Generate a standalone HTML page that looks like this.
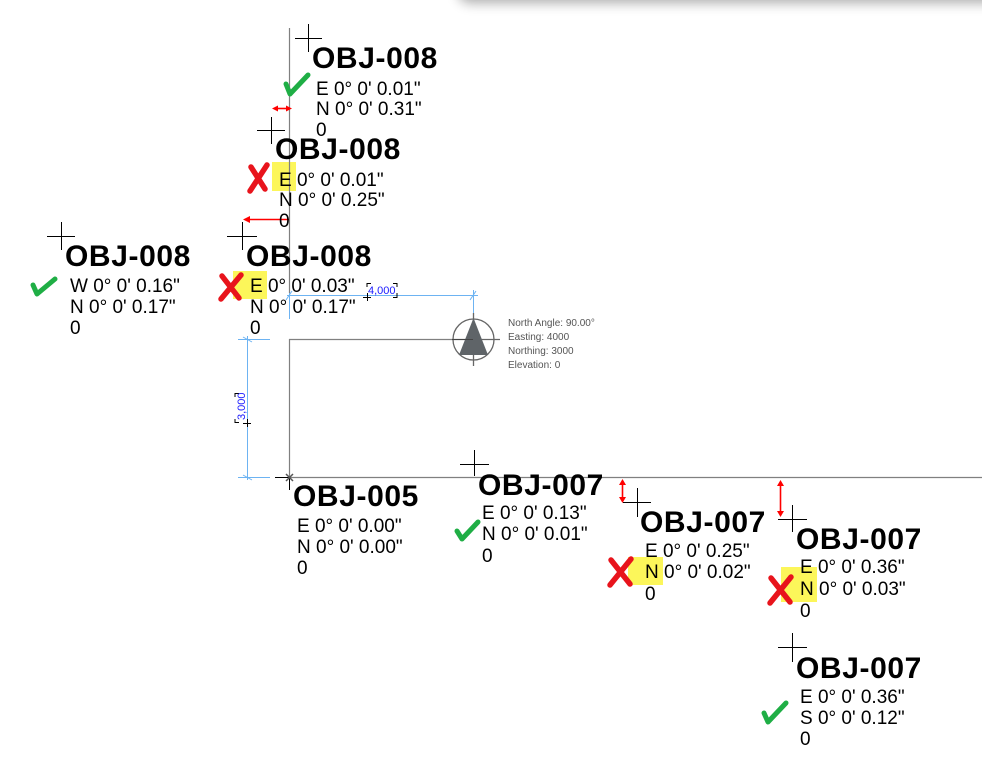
<!DOCTYPE html>
<html><head><meta charset="utf-8">
<style>
html,body{margin:0;padding:0;background:#fff;}
body{width:982px;height:771px;position:relative;overflow:hidden;}
#shadow{position:absolute;left:458px;top:-30px;width:560px;height:30px;background:#fff;box-shadow:0 3px 12px rgba(0,0,0,0.33);border-radius:0 0 0 12px;}
svg{position:absolute;left:0;top:0;}
.t{font-family:"Liberation Sans",Arial,sans-serif;font-weight:bold;font-size:30px;letter-spacing:0.6px;fill:#000;}
.d{font-family:"Liberation Sans",Arial,sans-serif;font-size:19px;fill:#000;}
.c{font-family:"Liberation Sans",Arial,sans-serif;font-size:10px;fill:#555;}
.dim{font-family:"Liberation Sans",Arial,sans-serif;font-size:11px;fill:#1a1aff;}
</style></head><body>
<div id="shadow"></div>
<svg width="982" height="771" viewBox="0 0 982 771" xmlns="http://www.w3.org/2000/svg">
<!-- yellow highlights -->
<rect x="272" y="162" width="24" height="29" fill="#fcf65a"/>
<rect x="233" y="271" width="34" height="28" fill="#fcf65a"/>
<rect x="628" y="557" width="35" height="28" fill="#fcf65a"/>
<rect x="781" y="567" width="36" height="35" fill="#fcf65a"/>

<!-- grey construction lines -->
<g stroke="#808080" stroke-width="1.2" fill="none">
<line x1="289.5" y1="28" x2="289.5" y2="293"/>
<line x1="289.5" y1="339" x2="289.5" y2="477"/>
<line x1="289" y1="477.5" x2="982" y2="477.5"/>
<line x1="289" y1="339.5" x2="452" y2="339.5"/>
</g>

<!-- blue dimensions -->
<g stroke="#6db3f2" stroke-width="1" fill="none">
<line x1="289.5" y1="293" x2="289.5" y2="319"/>
<line x1="287" y1="295.5" x2="478" y2="295.5"/>
<line x1="473.5" y1="290" x2="473.5" y2="313"/>
<line x1="286" y1="300" x2="292" y2="291"/>
<line x1="470" y1="300" x2="476" y2="291"/>
<line x1="247.5" y1="336" x2="247.5" y2="480"/>
<line x1="238" y1="339.5" x2="270" y2="339.5"/>
<line x1="238" y1="477.5" x2="270" y2="477.5"/>
<line x1="243" y1="337" x2="252" y2="342"/>
<line x1="243" y1="475" x2="252" y2="480"/>
</g>
<text class="dim" x="368" y="294">4,000</text>
<g stroke="#000" stroke-width="1" fill="none">
<path d="M367 287 V283.5 H371"/><path d="M393 283.5 H397 V287"/><path d="M397 293 V297.5 H393"/>
<line x1="363" y1="297.5" x2="371" y2="297.5"/><line x1="367.5" y1="293" x2="367.5" y2="301"/>
<path d="M235 397 V393.5 H239"/><path d="M235 419 V422.5 H239"/>
<line x1="243" y1="423.5" x2="251" y2="423.5"/><line x1="247.5" y1="419" x2="247.5" y2="427"/>
</g>
<text class="dim" x="0" y="0" transform="translate(245,420) rotate(-90)">3,000</text>

<!-- compass -->
<g stroke="#666" stroke-width="1.3" fill="none">
<circle cx="473.5" cy="339.5" r="20.5"/>
<line x1="452" y1="339.5" x2="500" y2="339.5"/>
<line x1="473.5" y1="313" x2="473.5" y2="366"/>
</g>
<polygon points="473.5,318 459,355 488,355" fill="#5f6468"/>
<line x1="452" y1="339.5" x2="473" y2="339.5" stroke="#444" stroke-width="1"/>
<text class="c" x="508" y="326">North Angle: 90.00°</text>
<text class="c" x="508" y="340">Easting: 4000</text>
<text class="c" x="508" y="354">Northing: 3000</text>
<text class="c" x="508" y="368">Elevation: 0</text>

<!-- crosshairs -->
<g stroke="#000" stroke-width="1" fill="none">
<path d="M295 38.5 H322 M308.5 24 V52"/>
<path d="M257 130.5 H285 M271.5 117 V144"/>
<path d="M47 236.5 H75 M61.5 222 V250"/>
<path d="M227 236.5 H257 M242.5 222 V250"/>
<path d="M275 477.5 H289 M289.5 477 V490"/>
<path d="M460 464.5 H489 M474.5 450 V476"/>
<path d="M623 502.5 H651 M637.5 488 V517"/>
<path d="M778 519.5 H807 M792.5 505 V532"/>
<path d="M778 647.5 H807 M792.5 633 V662"/>
</g>
<g stroke="#555" stroke-width="1.5"><path d="M286 474 L293 481 M293 474 L286 481"/></g>

<!-- red arrows -->
<g stroke="#f00" stroke-width="1.6" fill="#f00">
<line x1="276" y1="108.5" x2="288" y2="108.5"/>
<polygon points="272,108.5 278,105.5 278,111.5" stroke="none"/>
<polygon points="292,108.5 286,105.5 286,111.5" stroke="none"/>
<line x1="248" y1="219.5" x2="289" y2="219.5"/>
<polygon points="243,219.5 250,216 250,223" stroke="none"/>
<line x1="622.5" y1="483" x2="622.5" y2="499"/>
<polygon points="622.5,479 619,485 626,485" stroke="none"/>
<polygon points="622.5,503 619,497 626,497" stroke="none"/>
<line x1="780.5" y1="484" x2="780.5" y2="513"/>
<polygon points="780.5,480 777,486 784,486" stroke="none"/>
<polygon points="780.5,517 777,511 784,511" stroke="none"/>
</g>

<!-- green checks -->
<g stroke="#1fae45" stroke-width="5" fill="none" stroke-linecap="round" stroke-linejoin="round">
<path d="M286 84 L290 94 L308 75"/>
<path d="M33 285 L37 294 L55 279"/>
<path d="M457 531 L462 539 L478 522"/>
<path d="M764 713 L768 722 L786 703"/>
</g>

<!-- red crosses -->
<g stroke="#e8141c" stroke-width="5.5" fill="none" stroke-linecap="round">
<path d="M251 167 L265 189 M267 165 L250 191"/>
<path d="M222 276 L239 298 M241 275 L221 299"/>
<path d="M611 560 L630 584 M631 559 L610 585"/>
<path d="M771 578 L790 602 M791 577 L770 603"/>
</g>

<!-- labels -->
<text class="t" x="312" y="68">OBJ-008</text>
<text class="d" x="316" y="95">E 0° 0' 0.01"</text>
<text class="d" x="316" y="115">N 0° 0' 0.31"</text>
<text class="d" x="316" y="136">0</text>

<text class="t" x="275" y="159">OBJ-008</text>
<text class="d" x="279" y="186">E 0° 0' 0.01"</text>
<text class="d" x="279" y="206">N 0° 0' 0.25"</text>
<text class="d" x="279" y="227">0</text>

<text class="t" x="65" y="266">OBJ-008</text>
<text class="d" x="70" y="292">W 0° 0' 0.16"</text>
<text class="d" x="70" y="313">N 0° 0' 0.17"</text>
<text class="d" x="70" y="334">0</text>

<text class="t" x="246" y="266">OBJ-008</text>
<text class="d" x="250" y="292">E 0° 0' 0.03"</text>
<text class="d" x="250" y="313">N 0° 0' 0.17"</text>
<text class="d" x="250" y="334">0</text>

<text class="t" x="293" y="506">OBJ-005</text>
<text class="d" x="297" y="532">E 0° 0' 0.00"</text>
<text class="d" x="297" y="553">N 0° 0' 0.00"</text>
<text class="d" x="297" y="574">0</text>

<text class="t" x="478" y="495">OBJ-007</text>
<text class="d" x="482" y="519">E 0° 0' 0.13"</text>
<text class="d" x="482" y="540">N 0° 0' 0.01"</text>
<text class="d" x="482" y="562">0</text>

<text class="t" x="640" y="532">OBJ-007</text>
<text class="d" x="645" y="557">E 0° 0' 0.25"</text>
<text class="d" x="645" y="578">N 0° 0' 0.02"</text>
<text class="d" x="645" y="600">0</text>

<text class="t" x="796" y="549">OBJ-007</text>
<text class="d" x="800" y="573">E 0° 0' 0.36"</text>
<text class="d" x="800" y="595">N 0° 0' 0.03"</text>
<text class="d" x="800" y="617">0</text>

<text class="t" x="796" y="678">OBJ-007</text>
<text class="d" x="800" y="703">E 0° 0' 0.36"</text>
<text class="d" x="800" y="724">S 0° 0' 0.12"</text>
<text class="d" x="800" y="745">0</text>
</svg>
</body></html>
